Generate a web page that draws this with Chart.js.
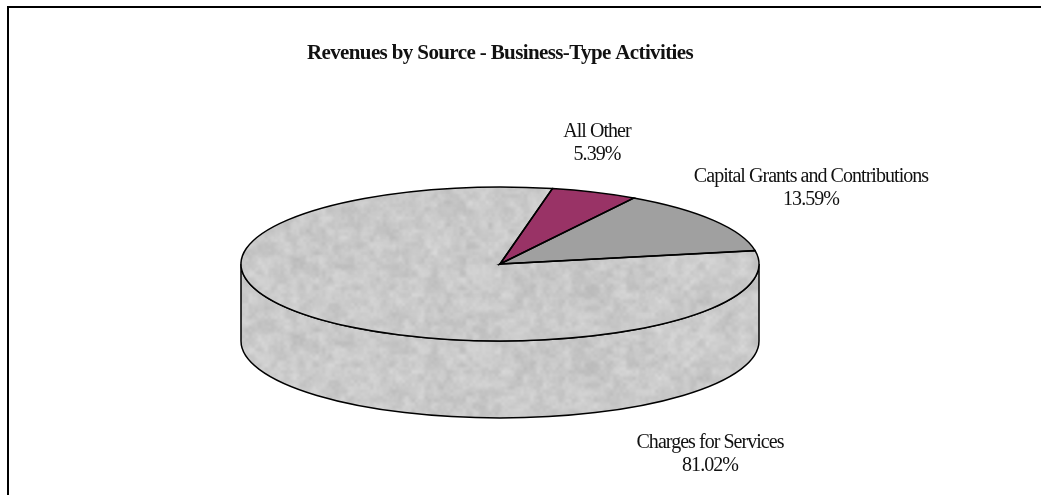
<!DOCTYPE html>
<html><head><meta charset="utf-8">
<style>html,body{margin:0;padding:0;background:#fff}canvas{display:block}</style>
<script src="https://cdn.jsdelivr.net/npm/chart.js@4"></script>
</head><body><canvas id="c" width="1041" height="495"></canvas>
<script>
const categories = ["Charges for Services", "All Other", "Capital Grants and Contributions"];
const revenueShares = [81.02, 5.39, 13.59];
const chartTitle = "Revenues by Source - Business-Type Activities";
const flatColors = [null, "#993366", "#A0A0A0"];

// Look of the tilted pie
const RX = 259, RY = 77, DEPTH = 77;
const LABEL_FONT = '20px "Liberation Serif"', LABEL_SPACING = '-0.96px', LINE_H = 23.5;
const labelAnchors = [[710, 442.5], [597, 131.5], [811, 176.5]];

function makeTile() {
  const W = 1041, H = 495, tile = document.createElement('canvas');
  tile.width = W; tile.height = H;
  const t = tile.getContext('2d'), img = t.createImageData(W, H);
  const hash = (x, y) => { const s = Math.sin(x * 127.1 + y * 311.7) * 43758.5453; return s - Math.floor(s); };
  const sm = v => v * v * (3 - 2 * v);
  const vn = (x, y) => {
    const xi = Math.floor(x), yi = Math.floor(y), fx = sm(x - xi), fy = sm(y - yi);
    const a = hash(xi, yi), b = hash(xi + 1, yi), c = hash(xi, yi + 1), d = hash(xi + 1, yi + 1);
    return (a + (b - a) * fx) * (1 - fy) + (c + (d - c) * fx) * fy;
  };
  for (let y = 0; y < H; y++) for (let x = 0; x < W; x++) {
    const n = vn(x / 3.2, y / 3.2) * .3 + vn(x / 7 + 9, y / 7) * .6 + vn(x / 20, y / 20 + 5) * .3;
    const g = Math.round(201 + (n - .6) * 30);
    const i = (x + y * W) * 4;
    img.data[i] = img.data[i + 1] = img.data[i + 2] = g; img.data[i + 3] = 255;
  }
  t.putImageData(img, 0, 0);
  return tile;
}
const ctx0 = document.getElementById('c').getContext('2d');
const tile = makeTile();
const topPattern = ctx0.createPattern(tile, 'repeat');
const wallPattern = ctx0.createPattern(tile, 'repeat');
wallPattern.setTransform(new DOMMatrix().translate(0, DEPTH));

const tiltPie = {
  id: 'tiltPie',
  beforeDraw(chart) {
    const c = chart.ctx;
    c.save();
    c.fillStyle = '#fff'; c.fillRect(0, 0, chart.width, chart.height);
    c.fillStyle = '#000';
    c.fillRect(7, 6, chart.width - 7, 2);
    c.fillRect(7, 6, 2, chart.height - 6);
    c.restore();
    c.letterSpacing = '-0.62px';
    c.filter = 'blur(0.35px)';
  },
  beforeDatasetsDraw(chart) {
    const c = chart.ctx, arcs = chart.getDatasetMeta(0).data;
    c.letterSpacing = '0px';
    c.filter = 'none';
    const { x: cx, y: cy, outerRadius: R } = arcs[0];
    const sx = RX / R, sy = RY / R;
    topPattern.setTransform(new DOMMatrix().translate(cx, cy).scale(1 / sx, 1 / sy).translate(-cx, -cy));
    // side wall: the front half of each slice, pushed down
    c.save();
    c.lineWidth = 1.5; c.strokeStyle = '#000';
    arcs.forEach((a, idx) => {
      const TAU = Math.PI * 2;
      let s = a.startAngle, e = a.endAngle;
      [0, TAU, -TAU].forEach(k => {
        const from = Math.max(s + k, 0), to = Math.min(e + k, Math.PI);
        if (to <= from) return;
        c.beginPath();
        c.ellipse(cx, cy, RX, RY, 0, from, to);
        c.ellipse(cx, cy + DEPTH, RX, RY, 0, to, from, true);
        c.closePath();
        c.fillStyle = flatColors[idx] || wallPattern;
        c.fill(); c.stroke();
      });
    });
    c.restore();
  },
  beforeDatasetDraw(chart) {
    const c = chart.ctx, a = chart.getDatasetMeta(0).data[0];
    const sx = RX / a.outerRadius, sy = RY / a.outerRadius;
    c.save();
    c.translate(a.x, a.y); c.scale(sx, sy); c.translate(-a.x, -a.y);
  },
  afterDatasetDraw(chart) { chart.ctx.restore(); },
  afterDatasetsDraw(chart) {
    const c = chart.ctx, arcs = chart.getDatasetMeta(0).data;
    const { x: cx, y: cy } = arcs[0];
    c.save();
    c.lineWidth = 1.5; c.strokeStyle = '#000'; c.lineJoin = 'miter';
    arcs.forEach(a => {
      c.beginPath();
      c.moveTo(cx, cy);
      c.ellipse(cx, cy, RX, RY, 0, a.startAngle, a.endAngle);
      c.closePath();
      c.stroke();
    });
    c.fillStyle = '#111';
    c.font = LABEL_FONT; c.letterSpacing = LABEL_SPACING;
    c.filter = 'blur(0.35px)';
    c.textAlign = 'center'; c.textBaseline = 'middle';
    categories.forEach((name, i) => {
      const [x, y] = labelAnchors[i];
      c.fillText(name, x, y);
      c.fillText(revenueShares[i].toFixed(2) + '%', x, y + LINE_H);
    });
    c.restore();
  }
};

new Chart(ctx0, {
  type: 'pie',
  data: {
    labels: categories,
    datasets: [{
      data: revenueShares,
      backgroundColor: [topPattern, flatColors[1], flatColors[2]],
      borderWidth: 0
    }]
  },
  options: {
    responsive: false,
    animation: false,
    rotation: 80,
    events: [],
    layout: { padding: { top: 0, right: 41, bottom: 31, left: 0 } },
    plugins: {
      legend: { display: false },
      tooltip: { enabled: false },
      title: {
        display: true,
        text: chartTitle,
        color: '#111',
        font: { family: '"Liberation Serif"', size: 21, weight: 'bold', lineHeight: 1.0 },
        padding: { top: 43, bottom: 0 }
      }
    }
  },
  plugins: [tiltPie]
});
</script></body></html>
